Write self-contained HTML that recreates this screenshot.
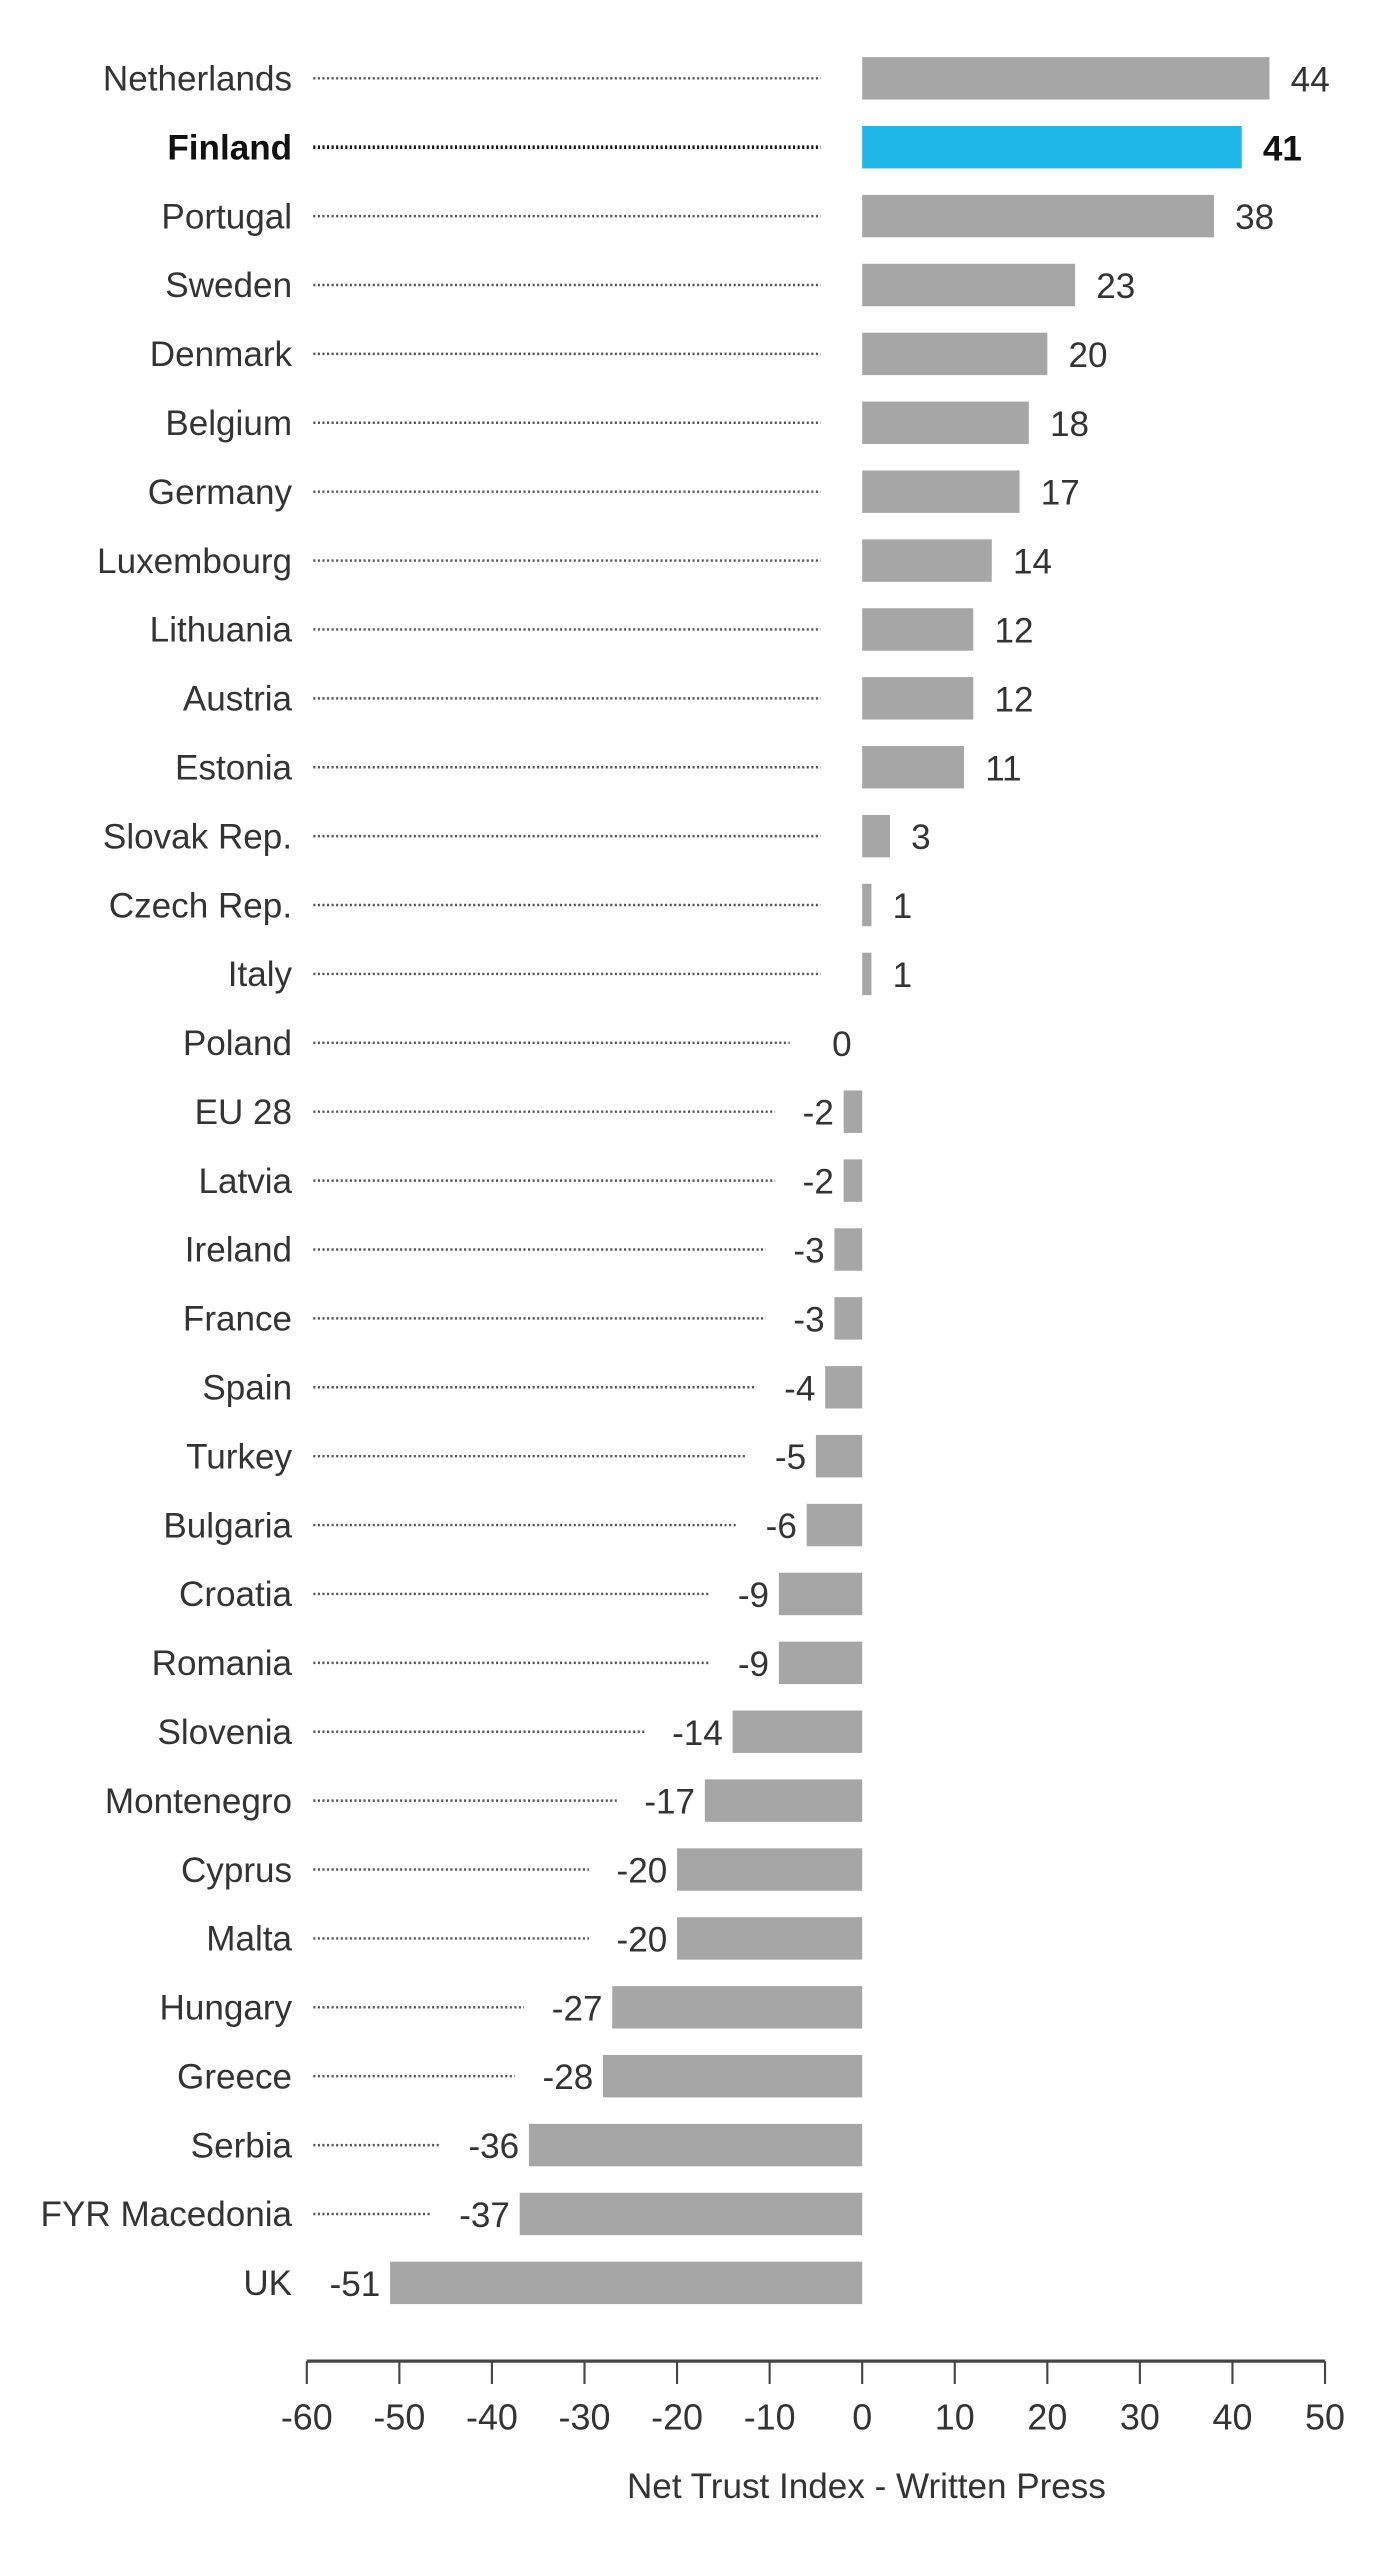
<!DOCTYPE html>
<html><head><meta charset="utf-8"><style>
html,body{margin:0;padding:0;background:#fff;}
svg{display:block;}
text{font-family:"Liberation Sans",sans-serif;fill:#333;}
</style></head><body>
<svg width="1400" height="2570" viewBox="0 0 858 1575" preserveAspectRatio="none" xmlns="http://www.w3.org/2000/svg">
<g id="rows"></g>
<line x1="188" y1="1447" x2="812" y2="1447" stroke="#444" stroke-width="2"/>
<g id="ticks" stroke="#444" stroke-width="1.3"></g>
<g id="tl" font-size="22" text-anchor="middle"></g>
<text x="531" y="1531" font-size="21.5" text-anchor="middle">Net Trust Index - Written Press</text>
</svg>
<script>
var d=[["Netherlands",44],["Finland",41],["Portugal",38],["Sweden",23],["Denmark",20],["Belgium",18],["Germany",17],["Luxembourg",14],["Lithuania",12],["Austria",12],["Estonia",11],["Slovak Rep.",3],["Czech Rep.",1],["Italy",1],["Poland",0],["EU 28",-2],["Latvia",-2],["Ireland",-3],["France",-3],["Spain",-4],["Turkey",-5],["Bulgaria",-6],["Croatia",-9],["Romania",-9],["Slovenia",-14],["Montenegro",-17],["Cyprus",-20],["Malta",-20],["Hungary",-27],["Greece",-28],["Serbia",-36],["FYR Macedonia",-37],["UK",-51]];
var g=document.getElementById("rows"),u=5.673,z=528.4,h="";
d.forEach(function(r,i){
 var y=48+i*42.22,v=r[1],fin=r[0]=="Finland",w=Math.abs(v)*u,x=v>=0?z:z-w;
 var c=fin?"#1fb7e8":"#a6a6a6",tc=fin?"#111":"#333",fw=fin?"bold":"normal";
 h+='<text x="179" y="'+(y+7.5)+'" font-size="21.5" text-anchor="end" font-weight="'+fw+'" style="fill:'+tc+'">'+r[0]+'</text>';
 var lx,end;
 if(v>0){end=503;lx='<text x="'+(z+w+13)+'" y="'+(y+8)+'" font-size="21.5" font-weight="'+fw+'" style="fill:'+tc+'">'+v+'</text>';}
 else if(v==0){end=484;lx='<text x="510" y="'+(y+8)+'" font-size="21.5">0</text>';}
 else{var lw=String(v).length*12;var rx=x-6;end=rx-lw-12;lx='<text x="'+rx+'" y="'+(y+8)+'" font-size="21.5" text-anchor="end">'+v+'</text>';}
 if(end>200)h+='<line x1="192" y1="'+y+'" x2="'+end+'" y2="'+y+'" stroke="'+(fin?"#111":"#555")+'" stroke-width="'+(fin?2.2:1.5)+'" stroke-dasharray="1.3 1.5"/>';
 if(w>0)h+='<rect x="'+x+'" y="'+(y-13)+'" width="'+w+'" height="26" fill="'+c+'"/>';
 h+=lx;
});
g.innerHTML=h;
var t="",l="";
for(var k=-60;k<=50;k+=10){var x=z+k*u;t+='<line x1="'+x+'" y1="1447" x2="'+x+'" y2="1461"/>';l+='<text x="'+x+'" y="1489">'+k+'</text>';}
document.getElementById("ticks").innerHTML=t;document.getElementById("tl").innerHTML=l;
</script>
</body></html>
